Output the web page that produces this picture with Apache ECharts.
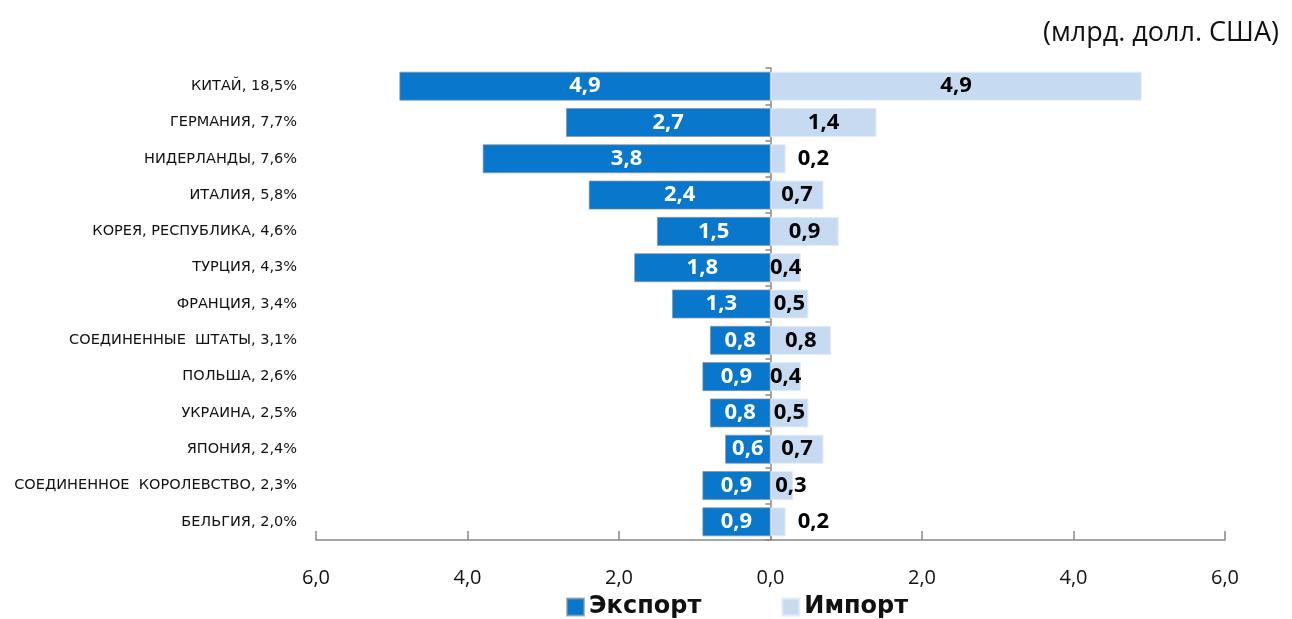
<!DOCTYPE html>
<html><head><meta charset="utf-8">
<script src="https://cdn.jsdelivr.net/npm/echarts@6/dist/echarts.min.js"></script>
<style>html,body{margin:0;padding:0;background:#fff}#c{width:1292px;height:619px}</style>
</head><body><div id="c"></div>
<script>
const categories = ['КИТАЙ, 18,5%','ГЕРМАНИЯ, 7,7%','НИДЕРЛАНДЫ, 7,6%','ИТАЛИЯ, 5,8%','КОРЕЯ, РЕСПУБЛИКА, 4,6%','ТУРЦИЯ, 4,3%','ФРАНЦИЯ, 3,4%','СОЕДИНЕННЫЕ  ШТАТЫ, 3,1%','ПОЛЬША, 2,6%','УКРАИНА, 2,5%','ЯПОНИЯ, 2,4%','СОЕДИНЕННОЕ  КОРОЛЕВСТВО, 2,3%','БЕЛЬГИЯ, 2,0%'];
const exportValues = [4.9,2.7,3.8,2.4,1.5,1.8,1.3,0.8,0.9,0.8,0.6,0.9,0.9];
const importValues = [4.9,1.4,0.2,0.7,0.9,0.4,0.5,0.8,0.4,0.5,0.7,0.3,0.2];
const seriesNames = ['Экспорт','Импорт'];
const unitText = '(млрд. долл. США)';

const FONT = 'Open Sans';
const fmt = v => Math.abs(v).toFixed(1).replace('.', ',');

const cats = categories.slice().reverse();
const exp = exportValues.slice().reverse();
const imp = importValues.slice().reverse();

const impData = imp.map(v => {
  if (v <= 0.2) return {value: v, label: {position: 'right', distance: 12}};
  if (v <= 0.3) return {value: v, label: {offset: [9, 0]}};
  return v;
});

const chart = echarts.init(document.getElementById('c'));
chart.setOption({
  animation: false,
  title: {text: unitText, right: 8, top: 15, textStyle: {fontFamily: FONT, fontSize: 27, fontWeight: 'normal', color: '#111'}},
  grid: {left: 316, right: 67, top: 68, bottom: 79},
  legend: {
    top: 590, left: 561, itemWidth: 17, itemHeight: 17, itemGap: 80,
    icon: 'rect',
    textStyle: {fontFamily: 'DejaVu Sans', fontSize: 24, fontWeight: 'bold', color: '#111'},
    data: seriesNames
  },
  xAxis: {
    type: 'value', min: -6, max: 6, interval: 2,
    axisLine: {show: true, onZero: false, lineStyle: {color: '#888', width: 1.5}},
    axisTick: {show: true, inside: true, length: 9, lineStyle: {color: '#888', width: 1.5}},
    splitLine: {show: false},
    axisLabel: {formatter: fmt, margin: 28, fontFamily: FONT, fontSize: 20, color: '#111'}
  },
  yAxis: [{
    type: 'category', data: cats, position: 'left',
    axisLine: {show: false, onZero: false}, axisTick: {show: false},
    axisLabel: {margin: 19, fontFamily: 'DejaVu Sans', fontSize: 14.5, color: '#111'}
  }, {
    type: 'category', data: cats, position: 'left',
    axisLine: {show: true, onZero: true, lineStyle: {color: '#888', width: 1.5}},
    axisTick: {show: true, length: 5, lineStyle: {color: '#888', width: 1.5}},
    axisLabel: {show: false}
  }],
  series: [{
    name: seriesNames[0], type: 'bar', stack: 'tot', barWidth: '80%',
    data: exp.map(v => -v),
    itemStyle: {color: '#0877CC', borderColor: 'rgba(140,150,160,0.7)', borderWidth: 1},
    label: {show: true, position: 'inside', formatter: p => fmt(p.value), fontFamily: FONT, fontSize: 22, fontWeight: 'bold', color: '#fff'}
  }, {
    name: seriesNames[1], type: 'bar', stack: 'tot', barWidth: '80%',
    data: impData,
    itemStyle: {color: '#C6DAF2', borderColor: 'rgba(230,236,245,1)', borderWidth: 1},
    label: {show: true, position: 'inside', formatter: p => fmt(p.value), fontFamily: FONT, fontSize: 22, fontWeight: 'bold', color: '#000'}
  }]
});
</script></body></html>
